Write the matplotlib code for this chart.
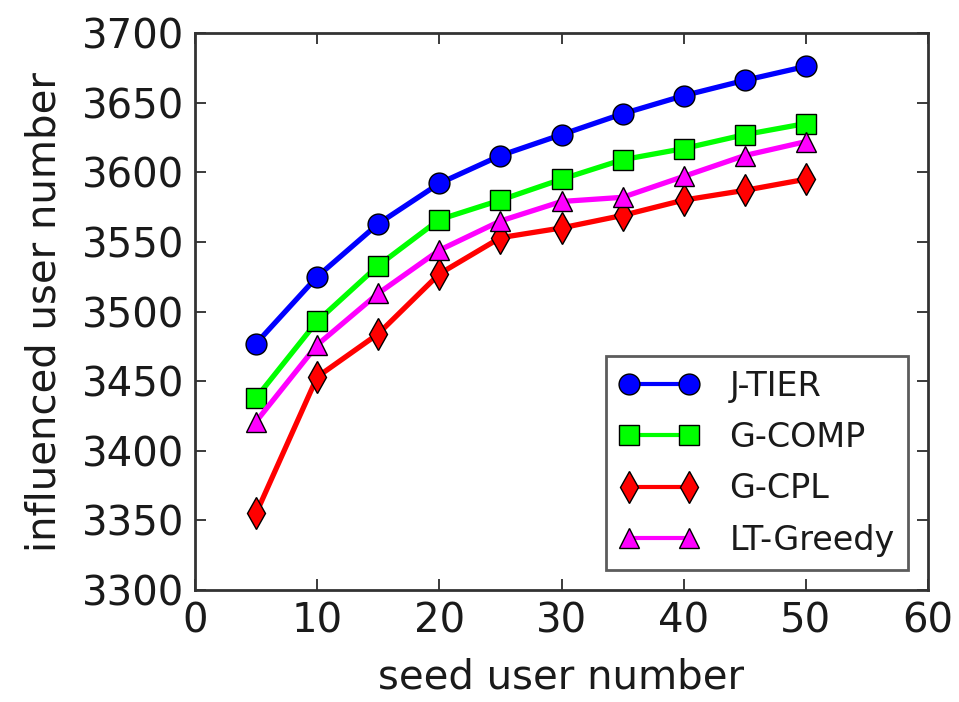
import matplotlib
matplotlib.use("Agg")
import matplotlib.pyplot as plt

x = [5, 10, 15, 20, 25, 30, 35, 40, 45, 50]
j_tier = [3477, 3525, 3563, 3592, 3612, 3627, 3642, 3655, 3666, 3676]
g_comp = [3438, 3493, 3533, 3566, 3580, 3595, 3609, 3617, 3627, 3635]
g_cpl = [3355, 3453, 3484, 3527, 3553, 3560, 3569, 3580, 3587, 3595]
lt_greedy = [3421, 3476, 3513, 3544, 3565, 3579, 3582, 3597, 3612, 3622]

xticks = [0, 10, 20, 30, 40, 50, 60]
yticks = [3300, 3350, 3400, 3450, 3500, 3550, 3600, 3650, 3700]

plt.rcParams['font.family'] = ['DejaVu Sans']
fig = plt.figure(figsize=(9.59, 7.02), dpi=100)
ax = fig.add_axes([195/959, 1-590/702, (928-195)/959, (590-33)/702])

series = [
    (j_tier, 'J-TIER', 'blue', 'o', 15),
    (g_comp, 'G-COMP', '#00ff00', 's', 14),
    (g_cpl, 'G-CPL', 'red', 'd', 16),
    (lt_greedy, 'LT-Greedy', 'magenta', '^', 15),
]
for vals, lab, col, mk, ms in series:
    ax.plot(x, vals, color=col, marker=mk, markersize=ms, linewidth=3.8,
            markeredgecolor='black', markeredgewidth=1.0, markerfacecolor=col,
            label=lab)

ax.set_xlim(0, 60)
ax.set_ylim(3300, 3700)
ax.set_xticks(xticks)
ax.set_yticks(yticks)
ax.tick_params(direction='in', length=8, width=1.2, labelsize=29, pad=8,
               top=True, right=True, colors='#1a1a1a')
for s in ax.spines.values():
    s.set_linewidth(2.0)
    s.set_color('#333333')
ax.set_xlabel('seed user number', fontsize=29, color='#1a1a1a', labelpad=12)
ax.set_ylabel('influenced user number', fontsize=29, color='#1a1a1a', labelpad=12)

leg = ax.legend(loc='lower right', numpoints=2, prop={'size': 24}, fancybox=False,
                handlelength=2.4, borderaxespad=0.6, labelspacing=0.55,
                handletextpad=0.9, borderpad=0.4)
leg.get_frame().set_edgecolor('#333333')
leg.get_frame().set_linewidth(2.0)
for t in leg.get_texts():
    t.set_color('#1a1a1a')
for h in leg.legend_handles:
    h.set_linewidth(3.0)

fig.savefig('out.png', dpi=100, facecolor='white')
